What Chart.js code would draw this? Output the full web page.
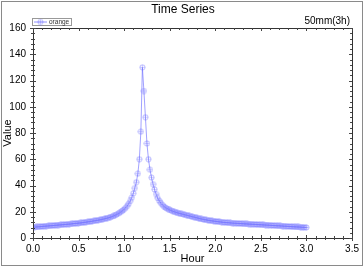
<!DOCTYPE html>
<html><head><meta charset="utf-8">
<script src="https://cdn.jsdelivr.net/npm/chart.js@4/dist/chart.umd.min.js"></script>
<style>html,body{margin:0;padding:0;background:#fff}#wrap{width:364px;height:267px;position:relative}</style>
</head><body><div id="wrap"><canvas id="c" width="364" height="267"></canvas></div>
<script>
// ---- data ----
const chartTitle = "Time Series";
const subTitle = "50mm(3h)";
const seriesName = "orange";
const startHour = 0;
const stepMinutes = 1;           // one sample per minute, 0..180 min
const values = [
 8.2,8.3,8.4,8.5,8.6,8.7,8.8,8.9,9.0,9.1,9.2,9.3,9.4,9.5,9.6,9.7,9.8,9.9,10.0,10.1,
 10.2,10.3,10.4,10.5,10.6,10.7,10.9,11.0,11.1,11.2,11.3,11.5,11.6,11.8,11.9,12.1,12.3,12.4,12.6,12.8,
 13.0,13.2,13.4,13.6,13.8,14.0,14.3,14.6,14.9,15.2,15.5,15.9,16.3,16.8,17.3,17.9,18.5,19.2,20.0,20.9,
 21.9,23.0,24.4,26.1,28.2,30.8,34.0,38.0,42.5,49.0,60.0,81.0,
 130.0,
 112,92,72,60,52,46,41,37,33.5,30.5,28.5,26.8,25.4,24.2,23.3,22.6,22.0,21.4,20.9,20.4,
 20.0,19.6,19.2,18.9,18.6,18.3,18.0,17.7,17.4,17.1,16.8,16.5,16.2,15.9,15.6,15.3,15.0,14.7,14.5,14.2,
 14.0,13.8,13.6,13.4,13.2,13.0,12.9,12.7,12.6,12.4,12.3,12.1,12.0,11.9,11.8,11.7,11.6,11.5,11.4,11.3,
 11.2,11.2,11.1,11.0,11.0,10.9,10.8,10.8,10.7,10.6,10.6,10.5,10.4,10.4,10.3,10.2,10.2,10.1,10.0,10.0,
 9.9,9.8,9.8,9.7,9.6,9.5,9.5,9.4,9.3,9.3,9.2,9.1,9.0,9.0,8.9,8.8,8.8,8.7,8.6,8.6,
 8.5,8.4,8.4,8.3,8.2,8.1,8.1,8.0
];
const xTicks = [0,0.5,1.0,1.5,2.0,2.5,3.0,3.5];
const yTicks = [0,20,40,60,80,100,120,140,160];
const xMinorStep = 0.1;
const yMinorStep = 4;

// ---- build points ----
const points = values.map((v,i)=>({x: startHour + i*stepMinutes/60, y: v}));

// marker: circle with a cross inside
function makeMarker(){
  const m = document.createElement('canvas'); m.width = 7; m.height = 7;
  const g = m.getContext('2d');
  g.strokeStyle = 'rgba(120,120,255,0.5)'; g.lineWidth = 1;
  g.beginPath(); g.arc(3.5,3.5,2.6,0,Math.PI*2); g.stroke();
  g.strokeStyle = 'rgba(120,120,255,0.35)';
  g.beginPath(); g.moveTo(1,3.5); g.lineTo(6,3.5); g.moveTo(3.5,1); g.lineTo(3.5,6); g.stroke();
  return m;
}
const marker = makeMarker();

const decor = {
  id:'decor',
  afterDraw(chart){
    const {ctx, chartArea:a, scales} = chart;
    const xs = scales.x, ys = scales.y;
    ctx.save();
    // outer border
    ctx.strokeStyle = '#8a8a8a'; ctx.lineWidth = 1;
    ctx.strokeRect(1.5,1.5,361,264);
    // frame
    ctx.strokeStyle = '#333';
    ctx.strokeRect(Math.round(a.left)+0.5, Math.round(a.top)+0.5, Math.round(a.right-a.left), Math.round(a.bottom-a.top));
    // x ticks
    ctx.beginPath();
    const nx = Math.round((xs.max - xs.min)/xMinorStep);
    for(let i=0;i<=nx;i++){
      const v = xs.min + i*xMinorStep;
      const px = Math.round(xs.getPixelForValue(v))+0.5;
      const major = Math.abs(v/0.5 - Math.round(v/0.5))<1e-6;
      const L = major?3:2;
      ctx.moveTo(px, a.bottom - L); ctx.lineTo(px, a.bottom + L);
      ctx.moveTo(px, a.top); ctx.lineTo(px, a.top + L);
    }
    const ny = Math.round((ys.max - ys.min)/yMinorStep);
    for(let i=0;i<=ny;i++){
      const v = ys.min + i*yMinorStep;
      const py = Math.round(ys.getPixelForValue(v))+0.5;
      const major = (v % 20)===0;
      const L = major?3:2;
      ctx.moveTo(a.left - L, py); ctx.lineTo(a.left + L, py);
      ctx.moveTo(a.right, py); ctx.lineTo(a.right - L, py);
    }
    ctx.strokeStyle = '#444'; ctx.stroke();
    // title
    ctx.fillStyle = '#000';
    ctx.font = '12px "Liberation Sans", Arial, sans-serif';
    ctx.textAlign = 'center'; ctx.textBaseline = 'middle';
    ctx.fillText(chartTitle, 183, 10);
    ctx.font = '10px "Liberation Sans", Arial, sans-serif';
    ctx.textAlign = 'right';
    ctx.fillText(subTitle, 350, 21);
    // legend
    ctx.strokeStyle = '#999';
    ctx.strokeRect(32.5, 18.5, 39, 7);
    ctx.strokeStyle = 'rgba(100,100,255,0.7)';
    ctx.beginPath(); ctx.moveTo(34, 22); ctx.lineTo(47, 22); ctx.stroke();
    ctx.drawImage(marker, 37, 18.5);
    ctx.fillStyle = '#333';
    ctx.font = '6.5px "Liberation Sans", Arial, sans-serif';
    ctx.textAlign = 'left';
    ctx.fillText(seriesName, 49, 22);
    ctx.restore();
  }
};

new Chart(document.getElementById('c'), {
  type:'line',
  data:{ datasets:[{
    label: seriesName,
    data: points,
    borderColor:'rgba(100,100,255,0.6)',
    borderWidth:1,
    pointStyle: marker,
    pointRadius:3,
    tension:0,
    fill:false
  }]},
  options:{
    responsive:false, animation:false, devicePixelRatio:1,
    layout:{padding:{left:0, top:28, right:11, bottom:0}},
    plugins:{legend:{display:false}, tooltip:{enabled:false}, title:{display:false}},
    scales:{
      x:{
        type:'linear', min:0, max:3.5,
        afterBuildTicks(s){ s.ticks = xTicks.map(v=>({value:v})); },
        afterFit(s){ s.height = 29; },
        grid:{display:false, drawTicks:false},
        border:{display:false},
        ticks:{padding:5, color:'#000', font:{family:'"Liberation Sans", Arial, sans-serif', size:10},
          callback:v=>Number(v).toFixed(1), maxRotation:0, autoSkip:false},
        title:{display:true, text:'Hour', color:'#000', padding:{top:0,bottom:1},
          font:{family:'"Liberation Sans", Arial, sans-serif', size:11}}
      },
      y:{
        type:'linear', min:0, max:160,
        afterBuildTicks(s){ s.ticks = yTicks.map(v=>({value:v})); },
        afterFit(s){ s.width = 33; },
        grid:{display:false, drawTicks:false},
        border:{display:false},
        ticks:{padding:7, color:'#000', font:{family:'"Liberation Sans", Arial, sans-serif', size:10}, autoSkip:false},
        title:{display:true, text:'Value', color:'#000', padding:{top:1,bottom:0},
          font:{family:'"Liberation Sans", Arial, sans-serif', size:11}}
      }
    }
  },
  plugins:[decor]
});
</script></body></html>
